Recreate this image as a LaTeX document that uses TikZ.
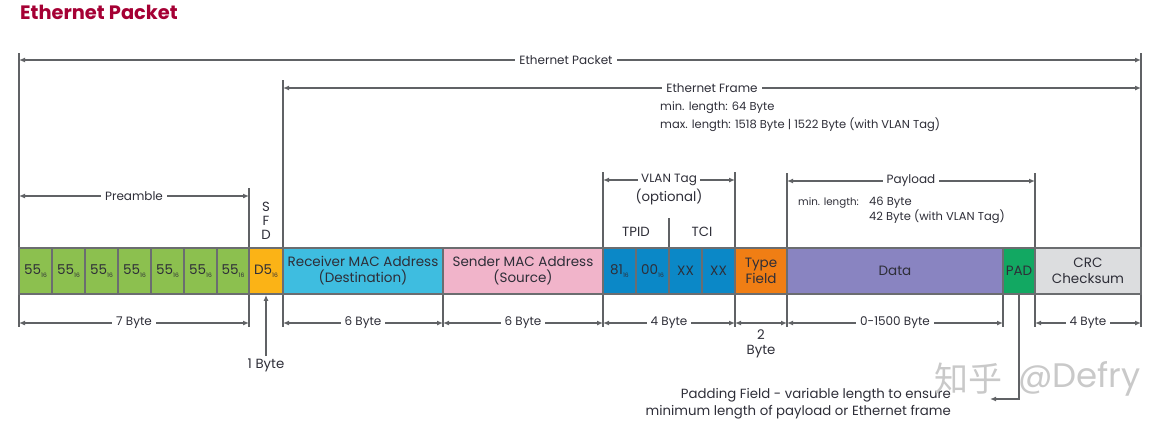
\documentclass[tikz,border=0pt]{standalone}
\usepackage{fontspec}
\setmainfont{Poppins}
\newfontfamily\cjk{Noto Sans CJK SC}
\usetikzlibrary{arrows.meta}
\definecolor{titlered}{HTML}{A50034}
\definecolor{linegray}{HTML}{606265}
\definecolor{boxline}{HTML}{6B6D70}
\definecolor{txt}{HTML}{2E2E38}
\definecolor{cgreen}{HTML}{8CC04F}
\definecolor{cyellow}{HTML}{FBB316}
\definecolor{ccyan}{HTML}{3EBDE0}
\definecolor{cpink}{HTML}{F1B4CA}
\definecolor{cblue}{HTML}{0B88C7}
\definecolor{corange}{HTML}{F07E14}
\definecolor{cpurple}{HTML}{8984C1}
\definecolor{cpad}{HTML}{12A862}
\definecolor{cgrey}{HTML}{DCDDDF}
\definecolor{wm}{HTML}{C9C9C9}
\newcommand{\hx}[1]{#1\raisebox{-0.35ex}{\fontsize{6}{6}\selectfont 16}}
\tikzset{
  fld/.style={draw=boxline, line width=1.8pt, minimum height=46pt, inner sep=0pt,
    align=center, text=txt, font=\fontsize{13.5}{16}\selectfont},
  guide/.style={draw=linegray, line width=1.6pt},
  dim/.style={draw=linegray, line width=1.6pt, {Latex[length=6pt,width=5pt]}-{Latex[length=6pt,width=5pt]}},
  arr/.style={draw=linegray, line width=1.6pt, -{Latex[length=6pt,width=5pt]}},
  lbl/.style={fill=white, inner sep=4pt, text=txt, font=\fontsize{12}{14}\selectfont},
  note/.style={text=txt, inner sep=0pt, font=\fontsize{11.5}{13}\selectfont},
  plain/.style={text=txt, inner sep=0pt, font=\fontsize{13.3}{16.5}\selectfont},
}
\begin{document}
\begin{tikzpicture}[x=1pt,y=-1pt]
\useasboundingbox (0,0) rectangle (1166,429);
% title
\node[anchor=west, text=titlered, font=\fontsize{19.4}{21}\selectfont\bfseries, inner sep=0pt] (title) at (20,12) {Ethernet Packet};
% guide lines
\draw[guide] (19,53) -- (19,327);
\draw[guide] (1141,53) -- (1141,327);
\draw[guide] (283,80) -- (283,327);
\draw[guide] (249,188) -- (249,327);
\draw[guide] (603,172) -- (603,327);
\draw[guide] (735,172) -- (735,327);
\draw[guide] (787,173) -- (787,327);
\draw[guide] (1035,173) -- (1035,327);
\draw[guide] (443,294) -- (443,327);
\draw[guide] (1003,294) -- (1003,327);
\draw[guide] (669,218) -- (669,248);
% fields
\node[fld, fill=cgreen, minimum width=33pt] (g1) at (35.5,271) {\hx{55}};
\node[fld, fill=cgreen, minimum width=33pt] (g2) at (68.5,271) {\hx{55}};
\node[fld, fill=cgreen, minimum width=33pt] (g3) at (101.5,271) {\hx{55}};
\node[fld, fill=cgreen, minimum width=33pt] (g4) at (134.5,271) {\hx{55}};
\node[fld, fill=cgreen, minimum width=33pt] (g5) at (167.5,271) {\hx{55}};
\node[fld, fill=cgreen, minimum width=33pt] (g6) at (200.5,271) {\hx{55}};
\node[fld, fill=cgreen, minimum width=32pt] (g7) at (233,271) {\hx{55}};
\node[fld, fill=cyellow, minimum width=34pt] (sfd) at (266,271) {\hx{D5}};
\node[fld, fill=ccyan, minimum width=160pt] (rcv) at (363,271) {Receiver MAC Address\\(Destination)};
\node[fld, fill=cpink, minimum width=160pt] (snd) at (523,271) {Sender MAC Address\\(Source)};
\node[fld, fill=cblue, minimum width=33pt] (v1) at (619.5,271) {\hx{81}};
\node[fld, fill=cblue, minimum width=33pt] (v2) at (652.5,271) {\hx{00}};
\node[fld, fill=cblue, minimum width=33pt] (v3) at (685.5,271) {XX};
\node[fld, fill=cblue, minimum width=33pt] (v4) at (718.5,271) {XX};
\node[fld, fill=corange, minimum width=52pt] (type) at (761,271) {Type\\Field};
\node[fld, fill=cpurple, minimum width=216pt] (data) at (895,271) {Data};
\node[fld, fill=cpad, minimum width=32pt] (pad) at (1019,271) {PAD};
\node[fld, fill=cgrey, minimum width=106pt] (crc) at (1088,271) {CRC\\Checksum};
% top dimension arrows
\coordinate (pL) at (19,60); \coordinate (pR) at (1141,60);
\draw[dim] (pL) -- node[lbl, pos=0.4875] (pkt) {Ethernet Packet} (pR);
\coordinate (fL) at (283,88); \coordinate (fR) at (1141,88);
\draw[dim] (fL) -- node[lbl] (frm) {Ethernet Frame} (fR);
\node[note, anchor=west] (fmin) at (660,108) {min. length: 64 Byte};
\node[note, anchor=west] (fmax) at (660,125) {max. length: 1518 Byte | 1522 Byte (with VLAN Tag)};
\coordinate (prL) at (19,196); \coordinate (prR) at (249,196);
\draw[dim] (prL) -- node[lbl] (pre) {Preamble} (prR);
\node[plain] (s1) at (266,207) {S};
\node[plain] (s2) at (266,221) {F};
\node[plain] (s3) at (266,235) {D};
\coordinate (vL) at (603,180); \coordinate (vR) at (735,180);
\draw[dim] (vL) -- node[lbl, inner sep=3pt] (vlan) {VLAN Tag} (vR);
\node[plain] (opt) at (669,197) {(optional)};
\node[plain] (tpid) at (636,232) {TPID};
\node[plain] (tci) at (702,232) {TCI};
\coordinate (plL) at (787,181); \coordinate (plR) at (1035,181);
\draw[dim] (plL) -- node[lbl] (pl) {Payload} (plR);
\node[note, anchor=west, font=\fontsize{10.3}{12}\selectfont] (pmin) at (798,203) {min. length:};
\node[note, anchor=west] (p46) at (869,203) {46 Byte};
\node[note, anchor=west] (p42) at (869,217) {42 Byte (with VLAN Tag)};
% bottom dimension arrows
\coordinate (b1) at (19,323); \coordinate (b2) at (249,323);
\coordinate (b3) at (283,323); \coordinate (b4) at (443,323);
\coordinate (b5) at (603,323); \coordinate (b6) at (735,323);
\coordinate (b7) at (787,323); \coordinate (b8) at (1003,323);
\coordinate (b9) at (1035,323); \coordinate (b10) at (1141,323);
\draw[dim] (b1) -- node[lbl] (l7) {7 Byte} (b2);
\draw[dim] (b3) -- node[lbl] (l6a) {6 Byte} (b4);
\draw[dim] (b4) -- node[lbl] (l6b) {6 Byte} (b5);
\draw[dim] (b5) -- node[lbl] (l4a) {4 Byte} (b6);
\draw[dim] (b6) -- (b7);
\node[plain] (l2) at (761,335) {2};
\node[plain] (l2b) at (761,352) {Byte};
\draw[dim] (b7) -- node[lbl] (l1500) {0-1500 Byte} (b8);
\draw[dim] (b9) -- node[lbl] (l4b) {4 Byte} (b10);
% 1 Byte
\node[plain] (one) at (266,365) {1 Byte};
\draw[arr] (266,356) -- (sfd.south);
% padding callout
\coordinate (padend) at (990,399);
\draw[arr] (pad.south) |- (padend);
\node[plain, anchor=east, align=right] (padtxt) at (951,403.5) {Padding Field - variable length to ensure\\minimum length of payload or Ethernet frame};
% watermark
\node[anchor=west, inner sep=0pt, text=wm, font=\cjk\fontsize{34}{36}\selectfont] (wm1) at (934,379) {知乎};
\node[anchor=west, inner sep=0pt, text=wm, font=\fontsize{34}{36}\selectfont] (wm2) at (1018,379) {@Defry};
\end{tikzpicture}
\end{document}
